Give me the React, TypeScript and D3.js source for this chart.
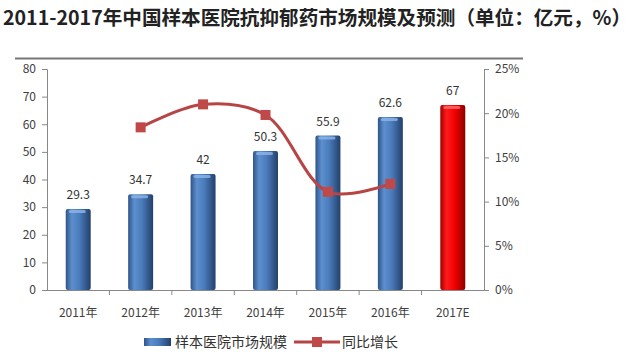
import { useEffect, useRef } from 'react';
import * as d3 from 'd3';

const years = ['2011年', '2012年', '2013年', '2014年', '2015年', '2016年', '2017E'];
const marketSize = [29.3, 34.7, 42, 50.3, 55.9, 62.6, 67];
const growthYears = ['2012年', '2013年', '2014年', '2015年', '2016年'];
const growthPct = [18.4, 21.0, 19.8, 11.1, 12.0];
const leftTicks = [0, 10, 20, 30, 40, 50, 60, 70, 80];
const rightTicks = [0, 5, 10, 15, 20, 25];

const FONT = '"Noto Sans CJK SC", "Noto Sans", sans-serif';

export default function App() {
  const svgRef = useRef<SVGSVGElement>(null);

  useEffect(() => {
    if (!svgRef.current) return;
    const svg = d3.select(svgRef.current);
    svg.selectAll('*').remove();

    const left = 47;
    const right = 484;
    const top = 69;
    const bottom = 290;

    const defs = svg.append('defs');
    const blue = defs.append('linearGradient').attr('id', 'gBlue').attr('x1', 0).attr('x2', 1).attr('y1', 0).attr('y2', 0);
    blue.append('stop').attr('offset', '0%').attr('stop-color', '#2f5488');
    blue.append('stop').attr('offset', '25%').attr('stop-color', '#5d8fcf');
    blue.append('stop').attr('offset', '55%').attr('stop-color', '#4a7bbb');
    blue.append('stop').attr('offset', '100%').attr('stop-color', '#23406b');
    const red = defs.append('linearGradient').attr('id', 'gRed').attr('x1', 0).attr('x2', 1).attr('y1', 0).attr('y2', 0);
    red.append('stop').attr('offset', '0%').attr('stop-color', '#a00000');
    red.append('stop').attr('offset', '25%').attr('stop-color', '#ff1a1a');
    red.append('stop').attr('offset', '60%').attr('stop-color', '#f00000');
    red.append('stop').attr('offset', '100%').attr('stop-color', '#8a0000');

    // title
    svg.append('text')
      .attr('x', 3)
      .attr('y', 25)
      .attr('font-family', FONT)
      .attr('font-weight', 'bold')
      .attr('font-size', 19.5)
      .attr('textLength', 628)
      .attr('lengthAdjust', 'spacingAndGlyphs')
      .attr('fill', '#222')
      .text('2011-2017年中国样本医院抗抑郁药市场规模及预测（单位：亿元，%）');

    svg.append('line')
      .attr('x1', 15).attr('x2', 523).attr('y1', 58.5).attr('y2', 58.5)
      .attr('stroke', '#777').attr('stroke-width', 2);

    const x = d3.scaleBand().domain(years).range([left, right]).paddingInner(0.6).paddingOuter(0.3);
    const xc = d3.scaleBand().domain(years).range([left, right]);
    const yL = d3.scaleLinear().domain([0, 80]).range([bottom, top]);
    const yR = d3.scaleLinear().domain([0, 25]).range([bottom, top]);

    const axisColor = '#888';
    const labelColor = '#404040';

    // left axis
    const gl = svg.append('g').attr('transform', `translate(${left},0)`)
      .call(d3.axisLeft(yL).tickValues(leftTicks).tickSize(5).tickPadding(6));
    gl.selectAll('.domain, .tick line').attr('stroke', axisColor);
    gl.selectAll('text').attr('fill', labelColor).attr('font-size', 12).attr('font-family', FONT);

    // right axis
    const gr = svg.append('g').attr('transform', `translate(${right},0)`)
      .call(d3.axisRight(yR).tickValues(rightTicks).tickSize(5).tickPadding(6).tickFormat((d) => `${d}%`));
    gr.selectAll('.domain, .tick line').attr('stroke', axisColor);
    gr.selectAll('text').attr('fill', labelColor).attr('font-size', 12).attr('font-family', FONT);

    // x axis
    svg.append('line').attr('x1', left).attr('x2', right).attr('y1', bottom + 0.5).attr('y2', bottom + 0.5).attr('stroke', axisColor);
    years.forEach((yr, i) => {
      const bx = xc(yr)!;
      if (i > 0) {
        svg.append('line').attr('x1', bx).attr('x2', bx).attr('y1', bottom).attr('y2', bottom + 5).attr('stroke', axisColor);
      }
      svg.append('text')
        .attr('x', bx + xc.bandwidth() / 2)
        .attr('y', bottom + 27)
        .attr('text-anchor', 'middle')
        .attr('font-family', FONT)
        .attr('font-size', 12)
        .attr('fill', labelColor)
        .text(yr);
    });

    // bars
    years.forEach((yr, i) => {
      const v = marketSize[i];
      const isForecast = yr.endsWith('E');
      const bx = x(yr)!;
      const bw = x.bandwidth();
      svg.append('rect')
        .attr('x', bx)
        .attr('y', yL(v))
        .attr('width', bw)
        .attr('height', bottom - yL(v))
        .attr('rx', 2)
        .attr('fill', isForecast ? 'url(#gRed)' : 'url(#gBlue)');
      svg.append('rect')
        .attr('x', bx + 3)
        .attr('y', yL(v) + 1)
        .attr('width', bw - 8)
        .attr('height', 3)
        .attr('rx', 1.5)
        .attr('fill', isForecast ? '#ff6b6b' : '#8fb7e8')
        .attr('opacity', 0.8);
      svg.append('text')
        .attr('x', bx + bw / 2)
        .attr('y', yL(v) - 10)
        .attr('text-anchor', 'middle')
        .attr('font-family', FONT)
        .attr('font-size', 12)
        .attr('fill', '#333')
        .text(String(v));
    });

    // growth line
    const pts: [number, number][] = growthYears.map((yr, i) => [xc(yr)! + xc.bandwidth() / 2, yR(growthPct[i])]);
    svg.append('path')
      .attr('d', d3.line().curve(d3.curveCatmullRom.alpha(0.5))(pts))
      .attr('fill', 'none')
      .attr('stroke', '#b84545')
      .attr('stroke-width', 3);
    pts.forEach(([px, py]) => {
      svg.append('rect')
        .attr('x', px - 5).attr('y', py - 5).attr('width', 10).attr('height', 10)
        .attr('fill', '#c04848');
    });

    // legend
    const ly = 342;
    svg.append('rect').attr('x', 144).attr('y', ly - 4).attr('width', 27).attr('height', 8).attr('fill', 'url(#gBlue)');
    svg.append('text').attr('x', 175).attr('y', ly + 5).attr('font-family', FONT).attr('font-size', 14).attr('fill', '#333').text('样本医院市场规模');
    svg.append('line').attr('x1', 294).attr('x2', 340).attr('y1', ly).attr('y2', ly).attr('stroke', '#b84545').attr('stroke-width', 3);
    svg.append('rect').attr('x', 312).attr('y', ly - 5).attr('width', 10).attr('height', 10).attr('fill', '#c04848');
    svg.append('text').attr('x', 342).attr('y', ly + 5).attr('font-family', FONT).attr('font-size', 14).attr('fill', '#333').text('同比增长');
  }, []);

  return (
    <svg
      ref={svgRef}
      width={640}
      height={354}
      style={{ position: 'absolute', left: 0, top: 0, background: '#fff' }}
    />
  );
}
